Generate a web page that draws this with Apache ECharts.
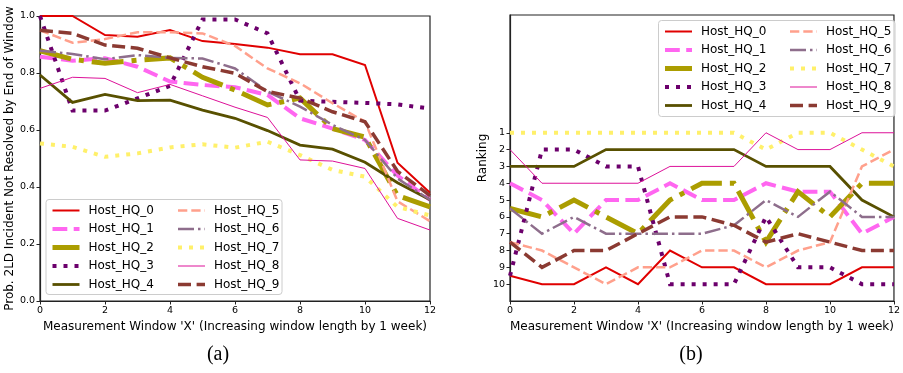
<!DOCTYPE html>
<html>
<head>
<meta charset="utf-8">
<script src="https://cdn.jsdelivr.net/npm/echarts@6/dist/echarts.min.js"></script>
<style>
  html, body { margin: 0; padding: 0; background: #fff; }
  #chart { width: 903px; height: 373px; }
</style>
</head>
<body>
<div id="chart"></div>
<script>
// Measurement windows (weeks)
const weeks = [0, 1, 2, 3, 4, 5, 6, 7, 8, 9, 10, 11, 12];

const hostNames = ['Host_HQ_0', 'Host_HQ_1', 'Host_HQ_2', 'Host_HQ_3', 'Host_HQ_4',
                   'Host_HQ_5', 'Host_HQ_6', 'Host_HQ_7', 'Host_HQ_8', 'Host_HQ_9'];

// Panel (a): probability that a 2LD incident is still unresolved at the end of the window
const probHQ0 = [1.0, 1.0, 0.933, 0.927, 0.951, 0.912, 0.902, 0.889, 0.866, 0.866, 0.828, 0.485, 0.38];
const probHQ1 = [0.857, 0.843, 0.852, 0.822, 0.77, 0.758, 0.75, 0.723, 0.641, 0.605, 0.565, 0.44, 0.355];
const probHQ2 = [0.878, 0.848, 0.834, 0.845, 0.853, 0.785, 0.74, 0.688, 0.712, 0.605, 0.575, 0.37, 0.33];
const probHQ3 = [1.0, 0.668, 0.668, 0.711, 0.755, 0.988, 0.988, 0.939, 0.703, 0.699, 0.695, 0.69, 0.675];
const probHQ4 = [0.793, 0.697, 0.725, 0.703, 0.705, 0.67, 0.641, 0.598, 0.547, 0.533, 0.487, 0.415, 0.355];
const probHQ5 = [0.95, 0.906, 0.919, 0.943, 0.943, 0.939, 0.895, 0.816, 0.764, 0.694, 0.629, 0.35, 0.28];
const probHQ6 = [0.878, 0.867, 0.848, 0.863, 0.853, 0.851, 0.816, 0.735, 0.682, 0.618, 0.565, 0.43, 0.355];
const probHQ7 = [0.553, 0.541, 0.506, 0.518, 0.539, 0.55, 0.538, 0.559, 0.512, 0.46, 0.436, 0.33, 0.30];
const probHQ8 = [0.746, 0.785, 0.781, 0.731, 0.76, 0.72, 0.68, 0.644, 0.495, 0.491, 0.465, 0.29, 0.249];
const probHQ9 = [0.95, 0.939, 0.898, 0.887, 0.853, 0.822, 0.799, 0.735, 0.712, 0.664, 0.629, 0.455, 0.37];

// Panel (b): ranking of each host per window (ties share the mean rank)
const rankHQ0 = [9.5, 10, 10, 9, 10, 8, 9, 9, 10, 10, 10, 9, 9];
const rankHQ1 = [4, 5, 7, 5, 5, 4, 5, 5, 4, 4.5, 4.5, 7, 6];
const rankHQ2 = [5.5, 6, 5, 6, 7, 5, 4, 4, 7.5, 4.5, 6, 4, 4];
const rankHQ3 = [9.5, 2, 2, 3, 3, 10, 10, 10, 6, 9, 9, 10, 10];
const rankHQ4 = [3, 3, 3, 2, 2, 2, 2, 2, 3, 3, 3, 5, 6];
const rankHQ5 = [7.5, 8, 9, 10, 9, 9, 8, 8, 9, 8, 7.5, 3, 2];
const rankHQ6 = [5.5, 7, 6, 7, 7, 7, 7, 6.5, 5, 6, 4.5, 6, 6];
const rankHQ7 = [1, 1, 1, 1, 1, 1, 1, 1, 2, 1, 1, 2, 3];
const rankHQ8 = [2, 4, 4, 4, 4, 3, 3, 3, 1, 2, 2, 1, 1];
const rankHQ9 = [7.5, 9, 8, 8, 7, 6, 6, 6.5, 7.5, 7, 7.5, 8, 8];

const rankTicks = [1, 2, 3, 4, 5, 6, 7, 8, 9, 10];

const probSeries = [probHQ0, probHQ1, probHQ2, probHQ3, probHQ4, probHQ5, probHQ6, probHQ7, probHQ8, probHQ9];
const rankSeries = [rankHQ0, rankHQ1, rankHQ2, rankHQ3, rankHQ4, rankHQ5, rankHQ6, rankHQ7, rankHQ8, rankHQ9];

// line look per host: colour, width, dash pattern
const looks = [
  { color: '#e00000', width: 2,   type: 'solid' },
  { color: '#ff66f0', width: 4,   type: [14.8, 6.4] },
  { color: '#ab9d00', width: 5,   type: [32, 8, 5, 8] },
  { color: '#6c006c', width: 4,   type: [4, 7] },
  { color: '#585000', width: 2.8, type: 'solid' },
  { color: '#ffa08c', width: 2.5, type: [9.3, 4] },
  { color: '#8e6e8c', width: 2.5, type: [16, 4, 2.5, 4] },
  { color: '#fff06a', width: 4,   type: [4, 7] },
  { color: '#dd1199', width: 1,   type: 'solid' },
  { color: '#8b3a32', width: 3.5, type: [13, 5.6] }
];

const FONT = 'DejaVu Sans';
const frameColor = '#222';

function buildSeries(values, axisIdx) {
  return values.map((arr, k) => ({
    name: hostNames[k],
    type: 'line',
    xAxisIndex: axisIdx,
    yAxisIndex: axisIdx,
    symbol: 'none',
    silent: true,
    animation: false,
    lineStyle: { color: looks[k].color, width: looks[k].width, type: looks[k].type, cap: 'butt', join: 'miter' },
    itemStyle: { color: looks[k].color },
    data: weeks.map((w, j) => [w, arr[j]])
  }));
}

// legend entries show only the line sample (no marker)
function legendData(from, to) {
  const out = [];
  for (let k = from; k < to; k++) {
    out.push({
      name: hostNames[k],
      itemStyle: { color: 'rgba(0,0,0,0)', borderWidth: 0, opacity: 0 },
      lineStyle: { color: looks[k].color, width: looks[k].width, type: looks[k].type, cap: 'butt' }
    });
  }
  return out;
}

function legendColumn(left, top, from, to) {
  return {
    orient: 'vertical',
    left: left, top: top,
    padding: 0,
    itemWidth: 27, itemHeight: 14, itemGap: 6.5,
    selectedMode: false,
    z: 10,
    textStyle: { fontFamily: FONT, fontSize: 12, color: '#000', padding: [0, 0, 0, 4] },
    data: legendData(from, to)
  };
}

const xAxisCommon = {
  type: 'value', min: 0, max: 12, interval: 2,
  name: "Measurement Window 'X' (Increasing window length by 1 week)",
  nameLocation: 'middle', nameGap: 16,
  nameTextStyle: { fontFamily: FONT, fontSize: 12, color: '#000' },
  axisLine: { show: true, onZero: false, lineStyle: { color: frameColor, width: 1.2 } },
  axisTick: { show: true, length: 3.5, inside: false, lineStyle: { color: frameColor, width: 1 } },
  axisLabel: { fontFamily: FONT, fontSize: 9.5, color: '#000', margin: 5 },
  splitLine: { show: false }
};

const option = {
  backgroundColor: '#fff',
  animation: false,
  grid: [
    { left: 40, right: 473, top: 16, bottom: 72, show: true, borderColor: frameColor, borderWidth: 1.2 },
    { left: 510, right: 1.3, top: 15, bottom: 72, show: true, borderColor: frameColor, borderWidth: 1.2 }
  ],
  xAxis: [
    Object.assign({ gridIndex: 0 }, xAxisCommon),
    Object.assign({ gridIndex: 1 }, xAxisCommon)
  ],
  yAxis: [
    {
      gridIndex: 0, type: 'value', min: 0, max: 1, interval: 0.2,
      name: 'Prob. 2LD Incident Not Resolved by End of Window',
      nameLocation: 'middle', nameGap: 24,
      nameTextStyle: { fontFamily: FONT, fontSize: 12, color: '#000' },
      axisLine: { show: true, lineStyle: { color: frameColor, width: 1.2 } },
      axisTick: { show: true, length: 3.5, lineStyle: { color: frameColor, width: 1 } },
      axisLabel: { fontFamily: FONT, fontSize: 9.5, color: '#000', margin: 5,
                   formatter: v => v.toFixed(1) },
      splitLine: { show: false }
    },
    {
      gridIndex: 1, type: 'value', min: -6, max: 11, inverse: true,
      name: 'Ranking',
      nameLocation: 'middle', nameGap: 21,
      nameTextStyle: { fontFamily: FONT, fontSize: 12, color: '#000' },
      axisLine: { show: true, lineStyle: { color: frameColor, width: 1.2 } },
      axisTick: { show: true, length: 3.5, customValues: rankTicks, lineStyle: { color: frameColor, width: 1 } },
      axisLabel: { fontFamily: FONT, fontSize: 9.5, color: '#000', margin: 5, customValues: rankTicks },
      splitLine: { show: false }
    }
  ],
  legend: [
    legendColumn(50, 204.5, 0, 5), legendColumn(176, 204.5, 5, 10),
    legendColumn(662.5, 25.5, 0, 5), legendColumn(788, 25.5, 5, 10)
  ],
  graphic: [
    { type: 'rect', z: 5, shape: { x: 46, y: 199.5, width: 236, height: 95, r: 3 },
      style: { fill: 'rgba(255,255,255,0.8)', stroke: '#cccccc', lineWidth: 1 } },
    { type: 'rect', z: 5, shape: { x: 658.5, y: 20.5, width: 236.5, height: 96, r: 3 },
      style: { fill: 'rgba(255,255,255,0.8)', stroke: '#cccccc', lineWidth: 1 } },
    { type: 'text', z: 5, x: 218, y: 355,
      style: { text: '(a)', fontFamily: 'Liberation Serif', fontSize: 20, fill: '#000', align: 'center', verticalAlign: 'middle' } },
    { type: 'text', z: 5, x: 691, y: 355,
      style: { text: '(b)', fontFamily: 'Liberation Serif', fontSize: 20, fill: '#000', align: 'center', verticalAlign: 'middle' } }
  ],
  series: buildSeries(probSeries, 0).concat(buildSeries(rankSeries, 1))
};

const chart = echarts.init(document.getElementById('chart'), null, { renderer: 'canvas' });
chart.setOption(option);
</script>
</body>
</html>
